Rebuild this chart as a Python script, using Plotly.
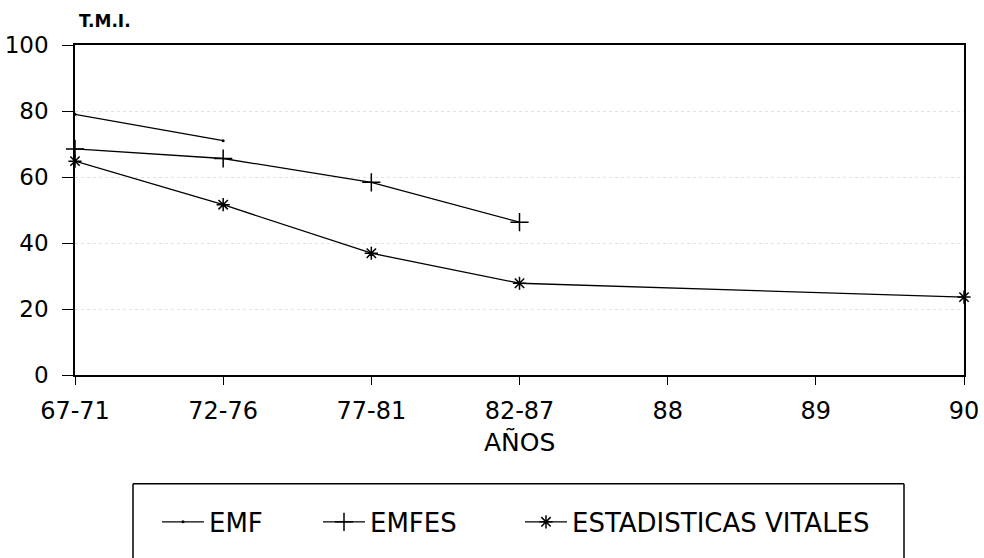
import plotly.graph_objects as go

categories = ["67-71", "72-76", "77-81", "82-87", "88", "89", "90"]
emf = [79, 71, None, None, None, None, None]
emfes = [68.5, 65.6, 58.4, 46.3, None, None, None]
vitales = [64.8, 51.6, 36.9, 27.8, None, None, 23.6]
y_ticks = [0, 20, 40, 60, 80, 100]

FONT = "DejaVu Sans"
PL, PR, PT, PB = 75, 964, 45, 382
PW, PH = PR - PL, PB - PT


def px(xp):
    return (xp - PL) / PW


def py(yp):
    return (PB - yp) / PH


fig = go.Figure()
fig.add_trace(go.Scatter(x=categories, y=emf, name="EMF", mode="lines+markers",
                         cliponaxis=False, legend="legend",
                         line=dict(color="black", width=1.3),
                         marker=dict(symbol="circle", size=3, color="black")))
fig.add_trace(go.Scatter(x=categories, y=emfes, name="EMFES", mode="lines+markers",
                         cliponaxis=False, legend="legend2",
                         line=dict(color="black", width=1.3),
                         marker=dict(symbol="cross-thin", size=13, color="black",
                                     line=dict(color="black", width=1.5))))
fig.add_trace(go.Scatter(x=categories, y=vitales, name="ESTADISTICAS VITALES",
                         mode="lines+markers", connectgaps=True, cliponaxis=False,
                         legend="legend3",
                         line=dict(color="black", width=1.3),
                         marker=dict(symbol="asterisk-open", size=11, color="black",
                                     line=dict(color="black", width=1.5))))

leg = dict(orientation="h", xanchor="left", yanchor="middle", y=py(532),
           font=dict(size=26, family=FONT, color="black"), bgcolor="rgba(0,0,0,0)",
           borderwidth=0, itemwidth=42)

fig.update_layout(
    width=984, height=558,
    margin=dict(l=PL, r=984 - PR, t=PT, b=558 - PB),
    paper_bgcolor="white", plot_bgcolor="white",
    font=dict(family=FONT, color="black", size=22),
    showlegend=True,
    legend=dict(x=px(157), **leg),
    legend2=dict(x=px(318), **leg),
    legend3=dict(x=px(520), **leg),
    xaxis=dict(type="category", categoryorder="array", categoryarray=categories,
               range=[0, 6], showline=True, linecolor="black", linewidth=1.5,
               mirror=True, ticks="outside", ticklen=8, tickcolor="black",
               ticklabelstandoff=5, automargin=False,
               tickfont=dict(size=24, family=FONT), showgrid=False, zeroline=False),
    yaxis=dict(range=[0, 100], tickvals=y_ticks, showline=True, linecolor="black",
               linewidth=1.5, mirror=True, ticks="outside", ticklen=11,
               tickcolor="black", tickfont=dict(size=23, family=FONT),
               ticklabelstandoff=9, automargin=False,
               showgrid=True, gridcolor="#e2e2e2", griddash="dot", gridwidth=1,
               zeroline=False),
)

fig.add_annotation(text="<b>T.M.I.</b>", xref="paper", yref="paper", x=px(77),
                   y=py(21), xanchor="left", yanchor="middle", showarrow=False,
                   font=dict(size=17, family=FONT))
fig.add_annotation(text="AÑOS", xref="paper", yref="paper", x=0.5, y=py(450),
                   xanchor="center", yanchor="middle", showarrow=False,
                   font=dict(size=25, family=FONT))

# legend frame (its bottom edge falls below the page)
box = dict(type="line", xref="paper", yref="paper", line=dict(color="black", width=1.5))
fig.add_shape(x0=px(133), x1=px(904), y0=py(493), y1=py(493), **box)
fig.add_shape(x0=px(133), x1=px(133), y0=py(493), y1=py(600), **box)
fig.add_shape(x0=px(904), x1=px(904), y0=py(493), y1=py(600), **box)

fig.write_html("out.html", config={"displayModeBar": False},
               post_script="document.body.style.margin='0';document.body.style.overflow='hidden';")
